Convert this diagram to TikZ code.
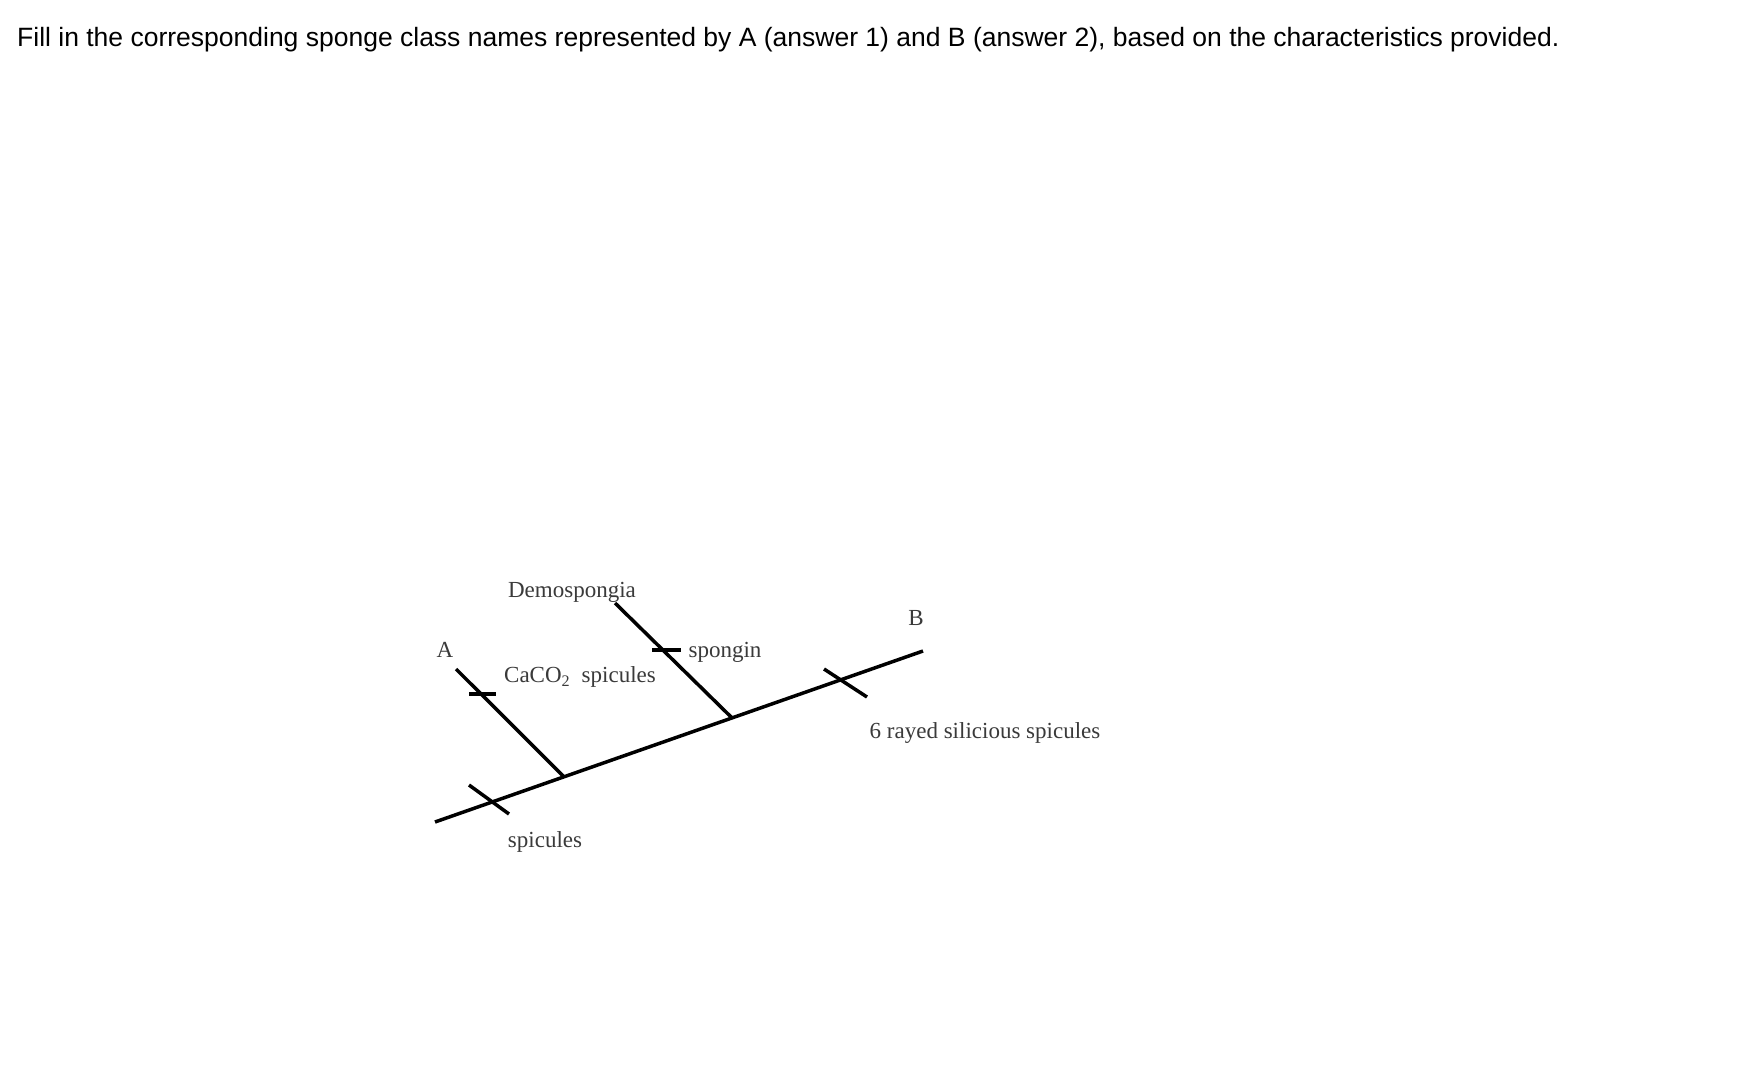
\documentclass[tikz,border=0pt]{standalone}
\usepackage{fontspec}
\setmainfont{Liberation Serif}
\newfontfamily\titlefont{Liberation Sans}
\definecolor{labelgray}{HTML}{3A3A3A}
\begin{document}
\begin{tikzpicture}[x=1pt,y=-1pt,
  branch/.style={line width=3.5pt,black},
  ticklabel/.style={font=\fontsize{23}{26}\selectfont,text=labelgray,inner sep=0pt},
  titletext/.style={font=\titlefont\fontsize{26.5}{30}\selectfont,text=black,inner sep=0pt,anchor=base west}]
\useasboundingbox[fill=white] (0,0) rectangle (1740,1068);
% title
\node[titletext] (title) at (17,46) {Fill in the corresponding sponge class names represented by A (answer 1) and B (answer 2), based on the characteristics provided.};
% tree coordinates
\coordinate (root) at (435,822);
\coordinate (end) at (923,651);
\coordinate (jA) at (564,776.8);
\coordinate (jD) at (732,717.9);
\coordinate (tipA) at (456,669);
\coordinate (tipD) at (615,603);
\coordinate (t1a) at (469,785);
\coordinate (t1b) at (509,814);
\coordinate (t2a) at (469,694);
\coordinate (t2b) at (496,694);
\coordinate (t3a) at (652,650);
\coordinate (t3b) at (681,650);
\coordinate (t4a) at (824,669);
\coordinate (t4b) at (867,697);
% lines
\draw[branch] (root) -- (end);
\draw[branch] (jA) -- (tipA);
\draw[branch] (jD) -- (tipD);
\draw[branch] (t1a) -- (t1b);
\draw[branch] (t2a) -- (t2b);
\draw[branch] (t3a) -- (t3b);
\draw[branch] (t4a) -- (t4b);
% labels
\node[ticklabel] (A) at (445,650) {A};
\node[ticklabel] (B) at (916,618) {B};
\node[ticklabel] (demo) at (572,592) {Demospongia};
\node[ticklabel] (caco) at (580,677) {CaCO\textsubscript{2}\ \ spicules};
\node[ticklabel] (spongin) at (725,652) {spongin};
\node[ticklabel] (spic) at (545,842) {spicules};
\node[ticklabel] (six) at (985,733) {6 rayed silicious spicules};
\end{tikzpicture}
\end{document}
